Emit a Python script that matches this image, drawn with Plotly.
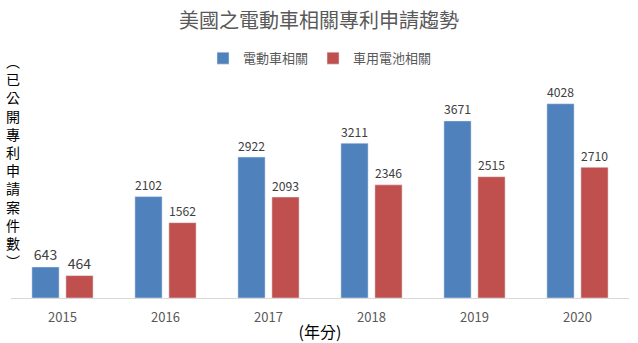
import plotly.graph_objects as go

years = ["2015", "2016", "2017", "2018", "2019", "2020"]
ev_values = [643, 2102, 2922, 3211, 3671, 4028]
battery_values = [464, 1562, 2093, 2346, 2515, 2710]
series_names = ["電動車相關", "車用電池相關"]
title_text = "美國之電動車相關專利申請趨勢"
y_title_chars = ["︵", "已", "公", "開", "專", "利", "申", "請", "案", "件", "數", "︶"]
x_title = "(年分)"

FONT = "Noto Sans CJK TC, Microsoft JhengHei, sans-serif"

fig = go.Figure()
fig.add_trace(go.Bar(x=years, y=ev_values, name=series_names[0], marker_color="#4F81BD",
                     text=ev_values, textposition="outside",
                     textfont=dict(size=14, color="#404040"), cliponaxis=False))
fig.add_trace(go.Bar(x=years, y=battery_values, name=series_names[1], marker_color="#C0504D",
                     text=battery_values, textposition="outside",
                     textfont=dict(size=14, color="#404040"), cliponaxis=False))

fig.update_layout(
    width=638, height=343,
    margin=dict(l=11, r=9, t=80, b=45, autoexpand=False),
    paper_bgcolor="white", plot_bgcolor="white",
    font=dict(family=FONT, color="#595959"),
    title=dict(text=title_text, x=0.5, xanchor="center", y=0.938, yanchor="middle",
               font=dict(size=20, color="#595959", family=FONT)),
    barmode="group", bargap=0.34, bargroupgap=0.2,
    showlegend=True,
    legend=dict(orientation="h", x=0.5, xanchor="center", y=1.1, yanchor="middle",
                font=dict(size=13, color="#595959"), itemwidth=30, traceorder="normal"),
    xaxis=dict(showline=True, linecolor="#D9D9D9", linewidth=1, automargin=False,
               ticks="outside", ticklen=7, tickcolor="rgba(0,0,0,0)",
               tickfont=dict(size=13, color="#595959"),
               title=dict(text=x_title, font=dict(size=16, color="#000000"), standoff=6)),
    yaxis=dict(range=[0, 4520], showgrid=False, showticklabels=False, zeroline=False,
               showline=False, automargin=False),
    annotations=[dict(text="<br>".join(y_title_chars), xref="paper", yref="paper",
                      x=0.003, y=0.63, xanchor="center", yanchor="middle",
                      showarrow=False, font=dict(size=14, color="#000000", family=FONT))],
)

fig.write_html("out.html")
